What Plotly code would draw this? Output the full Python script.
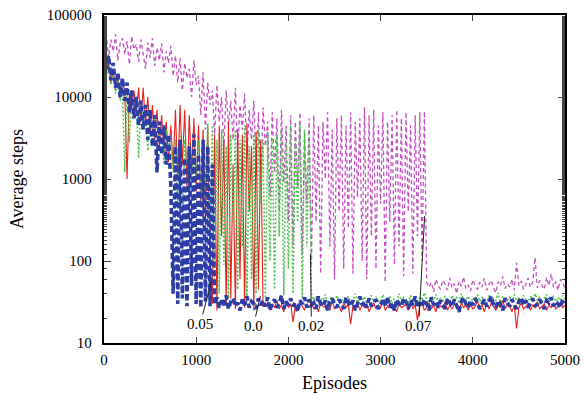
import math
import plotly.graph_objects as go

EPISODES = list(range(0, 5001, 25))

# alpha = 0.07 (magenta, dashed)
M = [42000, 55000, 30000, 50000, 36000, 58000, 28000, 45000, 52000,
     33000, 48000, 25000, 55000, 38000, 44000, 27000, 50000,
     35000, 22000, 46000, 30000, 52000, 24000, 40000, 28000,
     45000, 20000, 36000, 26000, 42000, 18000, 32000, 15000,
     30000, 12000, 26000, 17000, 22000, 10000, 28000, 14000,
     18000, 6000, 20000, 4000, 15000, 8000, 12000, 3500,
     14000, 5000, 10000, 2500, 12000, 4500, 9000, 3000,
     13000, 2200, 8000, 4000, 11000, 1800, 7000, 3000,
     9000, 1500, 6500, 800, 7500, 2500, 5000, 600,
     6500, 1200, 5500, 400, 7000, 900, 4500, 300,
     6000, 150, 5000, 800, 6500, 120, 3500, 500,
     5500, 90, 6000, 300, 4500, 70, 5000, 1000,
     6500, 150, 4000, 60, 5500, 400, 6000, 80,
     4500, 250, 6500, 70, 5000, 600, 5500, 100,
     7500, 60, 6000, 200, 7000, 80, 4500, 500,
     6500, 55, 5000, 300, 6000, 90, 7000, 150,
     5500, 65, 6500, 400, 4500, 70, 6000, 200,
     6500, 100, 6700, 55,
     48, 55, 42, 60, 50, 45, 58, 52, 44, 62,
     47, 53, 40, 57, 49, 64, 46, 51, 43, 59,
     50, 45, 55, 48, 62, 44, 52, 58, 47, 41,
     56, 50, 65, 46, 53, 48, 60, 44, 95, 50,
     57, 45, 52, 62, 48, 55, 110, 47, 58, 51,
     45, 63, 50, 70, 48, 56, 44, 60, 52, 47]

# alpha = 0.0 (red, solid)
R = [30000, 20000, 26000, 15000, 22000, 12000, 18000, 10000, 15000,
     12000, 1000, 11000, 7000, 12000, 6000, 13000, 5000,
     13000, 4500, 10000, 3500, 8000, 3000, 7000, 2500,
     6000, 2200, 5000, 1600, 4500, 1400, 7000, 1000,
     8000, 1500, 7000, 800, 6000, 1200, 5500, 700,
     4500, 500, 4000, 300, 4400, 100,
     30, 3500, 25, 4500, 200, 3000, 28, 5000, 35, 1500, 26, 4000,
     60, 3500, 27, 4800, 400, 2500, 25, 3800, 45, 3000, 28,
     28, 31, 25, 30, 27, 33, 26, 29, 24, 32,
     27, 30, 18, 29, 26, 31, 28, 25, 30, 27,
     32, 26, 29, 24, 31, 28, 27, 30, 25, 33,
     26, 29, 28, 24, 31, 27, 30, 17, 28, 26,
     32, 25, 29, 27, 30, 24, 28, 31, 26, 29,
     27, 33, 25, 28, 30, 26, 29, 24, 31, 27,
     28, 30, 25, 32, 26, 29, 19, 28, 30, 25,
     27, 31, 26, 29, 24, 30, 28, 27, 32, 25,
     29, 26, 30, 28, 24, 31, 27, 29, 25, 30,
     26, 28, 32, 27, 29, 24, 30, 26, 31, 28,
     25, 29, 27, 33, 26, 30, 28, 24, 29, 15,
     27, 31, 26, 28, 30, 25, 29, 27, 32, 26,
     28, 30, 25, 29, 27, 31, 26, 28, 30, 27,
     29]

# alpha = 0.02 (green, dotted)
G = [26000, 18000, 24000, 14000, 20000, 11000, 17000, 9000, 13000,
     1200, 12000, 2800, 10000, 6000, 9000, 1800, 8000,
     6000, 7000, 2200, 6500, 4000, 5500, 2500, 5000,
     4500, 1500, 4000, 2500, 3500, 1200, 3000, 500,
     3500, 130, 3000, 1500, 2800, 800, 2500, 1000,
     3000, 600, 2500, 400, 4800, 150, 4500, 60,
     3000, 40, 4000, 90, 2500, 35, 3500, 300,
     4000, 45, 3000, 150, 4500, 35, 2500, 60,
     3500, 40, 4000, 500, 3000, 35, 3800, 100,
     3200, 45, 3500, 200, 4200, 38, 2800, 80,
     4500, 40, 3000, 300, 4800, 36, 4000, 150,
     3500, 40,
     33, 37, 31, 35, 33, 39, 30, 34, 36, 32,
     38, 33, 35, 30, 34, 37, 32, 33, 40, 31,
     35, 33, 37, 30, 34, 38, 32, 36, 33, 31,
     39, 34, 33, 37, 30, 35, 33, 40, 32, 36,
     34, 31, 38, 33, 35, 30, 37, 33, 41, 34,
     32, 36, 33, 39, 31, 35, 33, 37, 34, 30,
     38, 33, 36, 32, 40, 34, 33, 37, 31, 35,
     33, 39, 32, 36, 34, 30, 38, 33, 35, 33,
     41, 31, 37, 34, 33, 36, 32, 39, 33, 35,
     30, 38, 34, 33, 37, 32, 40, 33, 36, 31,
     35, 39, 33, 34, 37, 32, 36, 33, 38, 34]

# alpha = 0.05 (blue, thick dashed)
B = [38000, 22000, 32000, 16000, 26000, 13000, 20000, 10000, 17000,
     9000, 15000, 6500, 12000, 5500, 10000, 4500, 9000,
     4000, 8000, 3000, 7000, 2500, 6000, 1200, 5000,
     2000, 4500, 1500, 3500, 800,
     40, 2500, 30, 3000, 35, 1800, 28, 2500, 50, 3500, 30, 2000,
     27, 3000, 32, 2500, 28, 1500,
     30, 36, 27, 33, 29, 38, 26, 32, 35, 28,
     31, 25, 34, 29, 37, 27, 32, 30, 26, 35,
     29, 33, 28, 36, 25, 31, 34, 27, 30, 38,
     26, 32, 29, 35, 28, 31, 24, 33, 30, 36,
     27, 34, 29, 31, 26, 37, 30, 28, 33, 25,
     32, 35, 29, 27, 34, 30, 26, 36, 31, 28,
     33, 25, 30, 37, 29, 32, 27, 35, 28, 31,
     34, 26, 30, 33, 29, 36, 27, 31, 25, 34,
     30, 28, 35, 32, 26, 33, 29, 37, 27, 31,
     28, 34, 30, 25, 36, 29, 32, 27, 33, 30,
     26, 35, 31, 28, 34, 29, 24, 32, 36, 30,
     27, 33, 29, 35, 31, 26, 30, 34, 28, 32,
     37, 29, 27, 33, 30, 25, 35, 31, 28, 34,
     30, 26, 32, 36, 29, 33, 27, 31, 35, 28,
     30, 34, 29, 26, 33, 31, 36, 28, 32, 30,
     27, 34, 31]

Y_TICKS = [10, 100, 1000, 10000, 100000]
Y_TICKTEXT = ["10", "100", "1000", "10000", "100000"]
X_TICKS = [0, 1000, 2000, 3000, 4000, 5000]

LABELS = ["0.05", "0.0", "0.02", "0.07"]
LABEL_EP = [1163, 1696, 2239, 3478]
LABEL_VAL = [55.5, 37.4, 121.6, 354.0]

FONT = "Liberation Serif"
NBSP = "\u00a0"

fig = go.Figure()
series = [
    (M, "#C44FC4", "4px,3px", 1.3),
    (R, "#E8201E", "solid", 1.1),
    (G, "#4CC24A", "2px,2px", 1.5),
    (B, "#2E3DA6", "6px,3px", 3.6),
]
for vals, col, dash, w in series:
    fig.add_trace(go.Scatter(x=EPISODES[:len(vals)], y=vals, mode="lines",
                             line=dict(color=col, dash=dash, width=w),
                             hoverinfo="skip"))

offsets = [(-11, 42), (-7, 30), (1, 72), (-6, 110)]
for lab, ep, v, (ax, ay) in zip(LABELS, LABEL_EP, LABEL_VAL, offsets):
    fig.add_annotation(x=ep, y=math.log10(v), text=lab, showarrow=True,
                       arrowhead=0, arrowwidth=1, arrowcolor="#222",
                       ax=ax, ay=ay, font=dict(family=FONT, size=15, color="black"))

fig.update_layout(
    width=584, height=395,
    margin=dict(l=104, r=19, t=15, b=52),
    plot_bgcolor="white", paper_bgcolor="white",
    showlegend=False,
    font=dict(family=FONT, size=15, color="black"),
)
fig.update_xaxes(range=[0, 5000], tickvals=X_TICKS, ticks="inside", ticklen=6,
                 tickwidth=1.2, mirror="ticks", showline=True, linewidth=1.5,
                 linecolor="black", showgrid=False, zeroline=False,
                 automargin=False, ticklabelstandoff=2,
                 title=dict(text="Episodes", standoff=10),
                 tickfont=dict(family=FONT, size=15))
fig.update_yaxes(type="log", range=[1, 5], tickvals=Y_TICKS,
                 ticktext=[t + NBSP * 2 for t in Y_TICKTEXT],
                 ticks="inside", ticklen=7, tickwidth=1.2, mirror="ticks",
                 showline=True, linewidth=1.5, linecolor="black", showgrid=False,
                 zeroline=False, automargin=False,
                 minor=dict(ticks="inside", ticklen=3, tickwidth=1, showgrid=False),
                 title=dict(text="Average steps", standoff=18),
                 tickfont=dict(family=FONT, size=15))

fig.write_html("out.html", config={"displayModeBar": False},
               post_script="document.body.style.margin='0px';")
